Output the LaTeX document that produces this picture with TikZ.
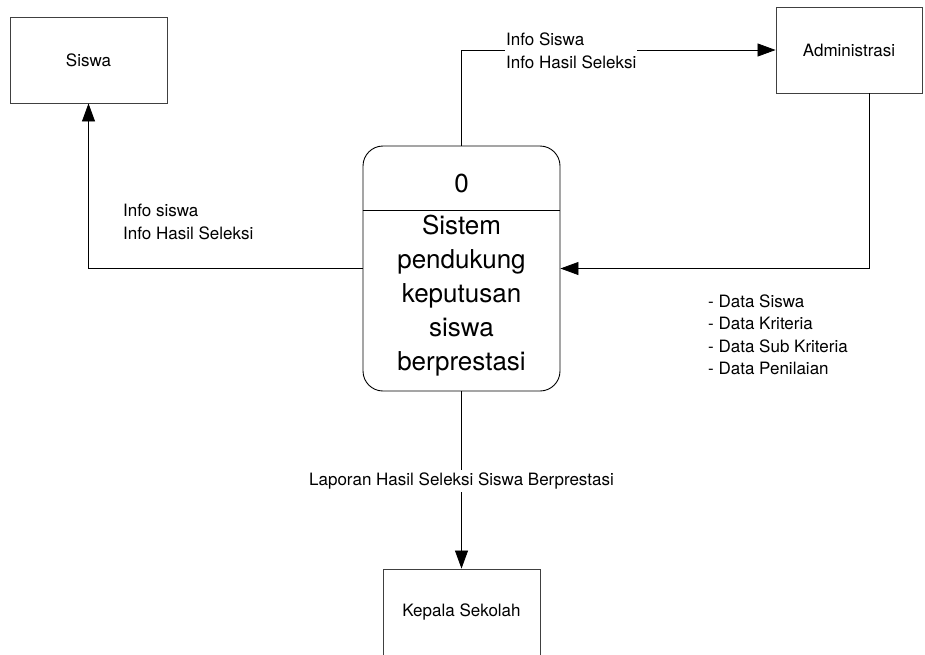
\documentclass[tikz,border=0pt]{standalone}
\usepackage{fontspec}
\setmainfont{TeX Gyre Heros}
\usetikzlibrary{arrows.meta}
\begin{document}
\begin{tikzpicture}[x=1pt,y=-1pt,
  entity/.style={draw=black!75,line width=0.9pt,rectangle,minimum width=157pt,minimum height=86pt,inner sep=0pt,font=\fontsize{17}{22}\selectfont},
  proc/.style={draw=black,line width=0.9pt,rectangle,rounded corners=20pt,minimum width=197pt,minimum height=245pt,inner sep=0pt},
  flow/.style={draw=black,line width=0.8pt,-{Triangle[length=18pt,width=13pt]}},
  lbl/.style={font=\fontsize{17}{22.5}\selectfont,inner sep=1pt,align=left},
  big/.style={font=\fontsize{26}{34}\selectfont,align=center,inner sep=0pt}]
\useasboundingbox[fill=white] (0,0) rectangle (925,654);
\node[entity] (siswa) at (88.5,60) {Siswa};
\node[entity,minimum width=146pt] (adm) at (849,50) {Administrasi};
\node[entity] (kep) at (461.5,612) {Kepala Sekolah};
\node[proc] (proc) at (461.5,268.5) {};
\draw[line width=0.9pt] (proc.west |- 0,210) coordinate (dl) -- (proc.east |- 0,210) coordinate (dr);
\node[big] (zero) at (461.5,183) {0};
\node[big] (ptext) at (461.5,296) {Sistem\\pendukung\\keputusan\\siswa\\berprestasi};
\draw[flow] (proc.north) |- (adm.west);
\draw[flow] (proc.west) -| (siswa.south);
\draw[flow] ([xshift=20pt]adm.south) |- (proc.east);
\draw[flow] (proc.south) -- (kep.north);
\node[lbl,fill=white,anchor=west] (l1) at (505,51) {Info Siswa\\Info Hasil Seleksi};
\node[lbl,anchor=west] (l2) at (122,222) {Info siswa\\Info Hasil Seleksi};
\node[lbl,anchor=west] (l3) at (707,335) {- Data Siswa\\- Data Kriteria\\- Data Sub Kriteria\\- Data Penilaian};
\node[lbl,fill=white,inner sep=3pt] (l4) at (461.5,481) {Laporan Hasil Seleksi Siswa Berprestasi};
\end{tikzpicture}
\end{document}
